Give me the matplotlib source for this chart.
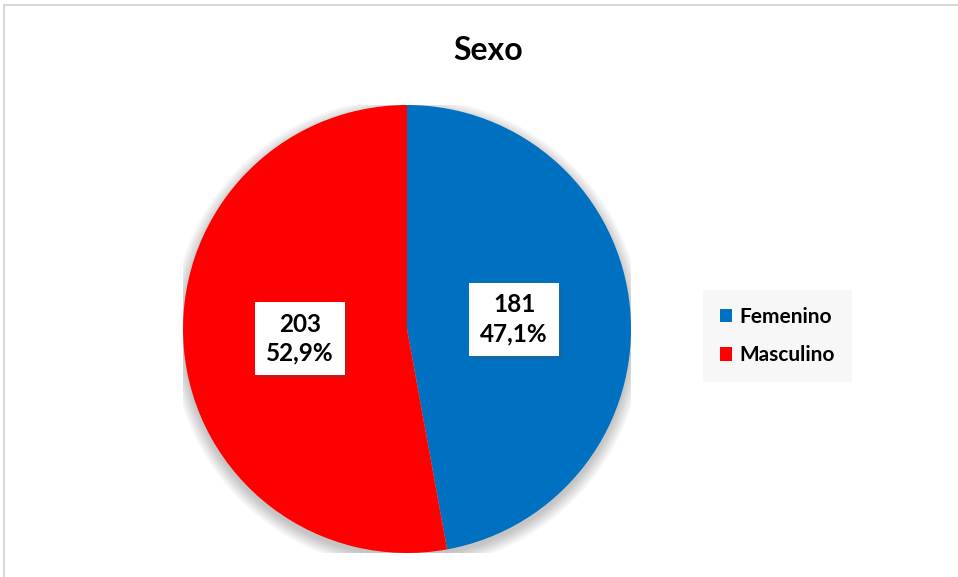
import matplotlib.pyplot as plt
import matplotlib.patches as mpatches
import matplotlib.patheffects as pe
from matplotlib.patches import Patch
import numpy as np

labels = ['Femenino', 'Masculino']
values = [181, 203]
colors = ['#0070C0', '#FF0000']

plt.rcParams['font.family'] = ['Lato', 'DejaVu Sans']

W, H = 958, 577
fig = plt.figure(figsize=(W / 100, H / 100), dpi=100)

# chart frame
fig.patches.append(mpatches.Rectangle((4 / W, -0.02), 1.0, 1 - 5 / H + 0.02,
                                      transform=fig.transFigure, fill=False,
                                      edgecolor='#D0D0D0', linewidth=1.2))

cx, cy, r = 407, 329, 224
ax = fig.add_axes([(cx - r) / W, (H - cy - r) / H, 2 * r / W, 2 * r / H])

# soft shadow under the pie
for i in range(10):
    ax.add_patch(mpatches.Circle((0.0, -0.02), 1.0 + 0.006 * i,
                                 color='black', alpha=0.025, lw=0, zorder=0))

total = sum(values)
wedges, _ = ax.pie(values, colors=colors, startangle=90, counterclock=False,
                   radius=1.0, wedgeprops=dict(linewidth=0))
for w in wedges:
    w.set_zorder(2)

for w, v in zip(wedges, values):
    ang = np.deg2rad((w.theta1 + w.theta2) / 2)
    pct = f'{100 * v / total:.1f}'.replace('.', ',')
    t = ax.text(0.48 * np.cos(ang), 0.48 * np.sin(ang), f'{v}\n{pct}%',
                ha='center', va='center', fontsize=17.5, fontweight='bold',
                linespacing=1.3, zorder=5,
                bbox=dict(boxstyle='square,pad=0.45', facecolor='white',
                          edgecolor='none'))
    t.get_bbox_patch().set_path_effects(
        [pe.SimplePatchShadow(offset=(2, -2), alpha=0.25), pe.Normal()])

ax.set_xlim(-1, 1)
ax.set_ylim(-1, 1)
ax.set_aspect('equal')
ax.axis('off')

fig.text(488 / W, 1 - 50 / H, 'Sexo', ha='center', va='center',
         fontsize=23, fontweight='bold')

handles = [Patch(facecolor=c, edgecolor='none') for c in colors]
leg = fig.legend(handles, labels, loc='center left',
                 bbox_to_anchor=(703 / W, 1 - 336 / H), frameon=True,
                 fancybox=False, facecolor='#F7F7F7', edgecolor='none',
                 framealpha=1, handlelength=0.6, handleheight=0.6,
                 handletextpad=0.35, labelspacing=0.9, borderpad=0.8,
                 borderaxespad=0,
                 prop=dict(size=15, weight='bold'))

fig.savefig('out.png', dpi=100)
